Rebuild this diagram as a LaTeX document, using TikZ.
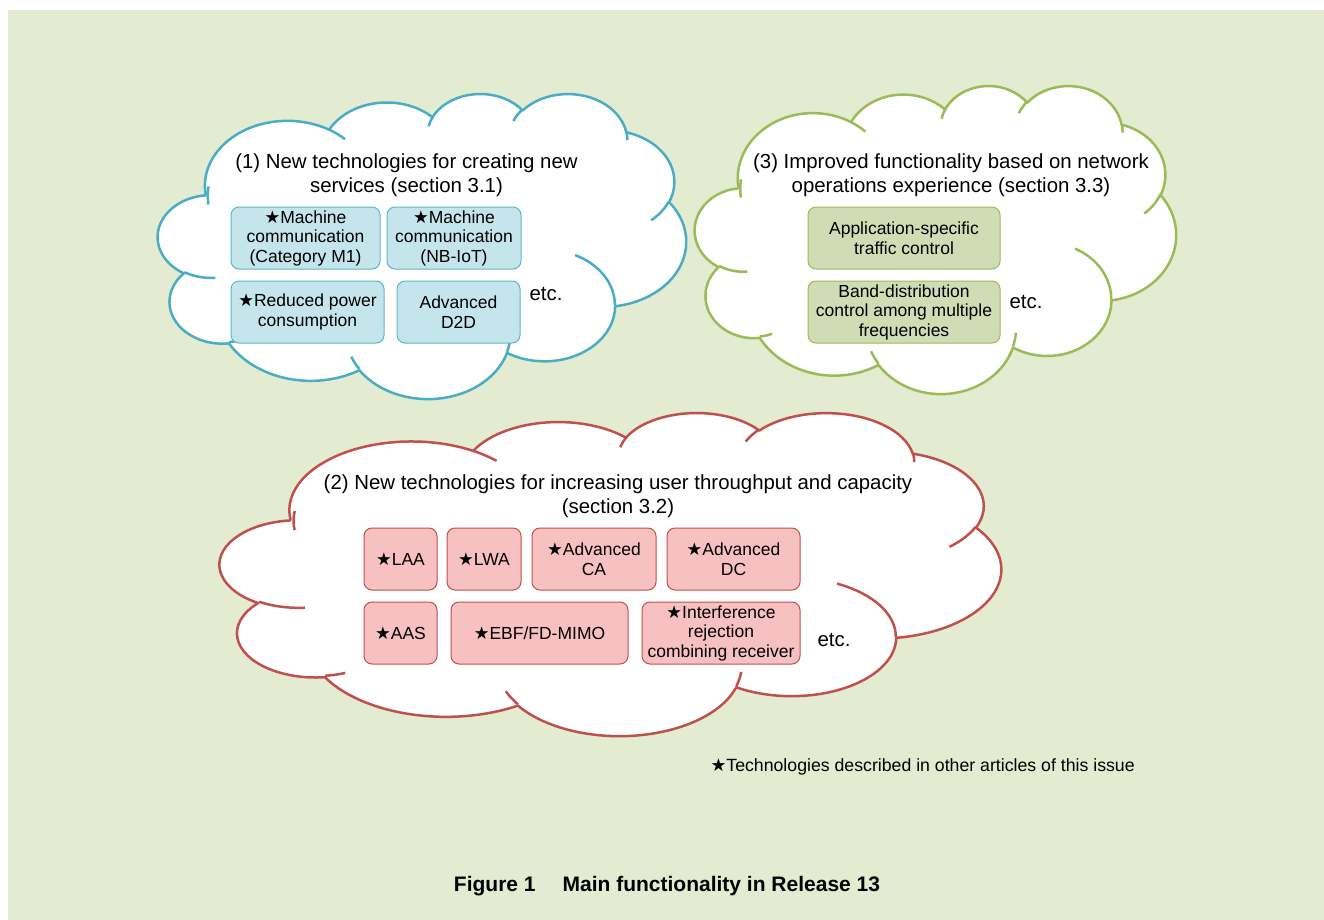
\documentclass[tikz,border=0pt]{standalone}
\usepackage{fontspec}
\setmainfont{Liberation Sans}
\newfontfamily\starfont{DejaVu Sans}
\usetikzlibrary{positioning}

\definecolor{pagebg}{HTML}{E3EBD1}
\definecolor{cloudblue}{HTML}{4BACC6}
\definecolor{cloudgreen}{HTML}{9BBB59}
\definecolor{cloudred}{HTML}{C0504D}
\definecolor{boxblue}{HTML}{C4E5EB}
\definecolor{boxblueline}{HTML}{5FB5CB}
\definecolor{boxgreen}{HTML}{D1DCB5}
\definecolor{boxred}{HTML}{F7C0C1}

\newcommand{\techstar}{{\starfont ★}}
\newcommand{\headfont}{\fontsize{20.4}{24}\selectfont}
\newcommand{\boxfont}{\fontsize{17.5}{19.5}\selectfont}

\tikzset{
  cloudline/.style={line width=2.5pt,fill=white,line join=round},
  techbox/.style={rounded corners=8pt,line width=1pt,align=center,inner sep=0pt,
    minimum height=62pt,font=\boxfont},
  bluebox/.style={techbox,draw=boxblueline,fill=boxblue},
  greenbox/.style={techbox,draw=cloudgreen,fill=boxgreen},
  redbox/.style={techbox,draw=cloudred,fill=boxred},
  heading/.style={align=center,font=\headfont},
  etcnote/.style={font=\headfont}
}

% cloud outline in a 432 x 432 box: colour, x, y, width, height
\newcommand{\drawcloud}[5]{%
  \begin{scope}[shift={(#2,#3)},xscale=#4/432,yscale=#5/432]
    \filldraw[cloudline,draw=#1] (39,143.7)
      \foreach \rx/\ry/\s/\d [evaluate={\s as \ts using atan2(\rx*sin(\s),\ry*cos(\s))},
          evaluate={\s as \te using atan2(\rx*sin(\s+\d),\ry*cos(\s+\d))},
          evaluate={\s as \dd using mod((\te)-(\ts)+720,360)}] in
        {67.53/91.90/-190.487/123.781, 53.33/72.67/-144.102/89.945,
         43.65/59.45/-145.808/99.723, 48.57/65.95/-130.986/117.242,
         53.33/72.73/-78.709/109.027, 67.75/92.20/-46.267/130.269,
         57.85/78.67/0.625/114.033, 67.52/92.15/22.452/115.173,
         77.20/105.43/66.243/75.711, 43.60/59.18/-274.942/146.736,
         43.45/59.45/-246.829/152.519}
        { arc[start angle=\ts,delta angle=\dd,x radius=\rx,y radius=\ry] } -- cycle;
    % inner folds
    \draw[cloudline,fill=none,draw=#1]
      \foreach \px/\py/\rx/\ry/\s/\d [evaluate={\s as \ts using atan2(\rx*sin(\s),\ry*cos(\s))},
          evaluate={\s as \te using atan2(\rx*sin(\s+\d),\ry*cos(\s+\d))},
          evaluate={\s as \dd using mod((\te)-(\ts)+720,360)}] in
        {46.93/261.77/43.45/59.45/86.742/26.430, 69.28/348.99/43.60/59.18/73.610/11.447,
         164.78/390.90/67.52/92.15/137.624/14.081, 288.27/347.51/67.52/92.15/6.453/15.998,
         341.29/229.54/57.85/78.67/-70.292/70.917, 417.98/153.54/53.33/72.73/30.318/27.752,
         383.24/54.26/48.57/65.95/-13.744/14.859, 290.78/39.52/48.57/65.95/-149.181/18.195,
         221.41/47.20/43.65/59.45/-163.494/17.686, 140.00/51.92/67.53/91.90/-66.707/12.319,
         41.27/157.89/67.53/91.90/-190.487/21.639}
        { (\px,\py) arc[start angle=\ts,delta angle=\dd,x radius=\rx,y radius=\ry] };
  \end{scope}}

\begin{document}
\begin{tikzpicture}[x=1pt,y=-1pt]
  \fill[white] (0,0) rectangle (1324,920);
  \useasboundingbox (0,0) rectangle (1324,920);
  \fill[pagebg] (8,10) rectangle (1324,920);

  \drawcloud{cloudblue}{158}{93}{528}{305}
  \drawcloud{cloudgreen}{695}{85}{481}{308}
  \drawcloud{cloudred}{220}{412}{781}{323}

  % (1) new services
  \node[heading] (title1) at (406.5,175) {(1) New technologies for creating new\\services (section 3.1)};
  \node[bluebox,minimum width=149pt] (mtcm) at (305.5,238) {\techstar Machine\\communication\\(Category M1)};
  \node[bluebox,minimum width=134pt,right=6pt of mtcm] (nbiot) {\techstar Machine\\communication\\(NB-IoT)};
  \node[bluebox,minimum width=153pt,below right=11pt and 0pt of mtcm.south west] (power) {\techstar Reduced power\\consumption};
  \node[bluebox,minimum width=123pt,right=12pt of power] (dtod) {Advanced\\D2D};
  \node[etcnote] (etc1) at (546,294) {etc.};

  % (3) operations experience
  \node[heading] (title3) at (951,175) {(3) Improved functionality based on network\\operations experience (section 3.3)};
  \node[greenbox,minimum width=192pt] (appctl) at (904,238) {Application-specific\\traffic control};
  \node[greenbox,minimum width=192pt,below=11pt of appctl] (bandctl) {Band-distribution\\control among multiple\\frequencies};
  \node[etcnote] (etc3) at (1026,302) {etc.};

  % (2) throughput and capacity
  \node[heading] (title2) at (618,496) {(2) New technologies for increasing user throughput and capacity\\(section 3.2)};
  \node[redbox,minimum width=73pt] (laa) at (400.5,559) {\techstar LAA};
  \node[redbox,minimum width=74pt,right=9pt of laa] (lwa) {\techstar LWA};
  \node[redbox,minimum width=124pt,right=10pt of lwa] (advca) {\techstar Advanced\\CA};
  \node[redbox,minimum width=133pt,right=10pt of advca] (advdc) {\techstar Advanced\\DC};
  \node[redbox,minimum width=73pt,below=11pt of laa] (aas) {\techstar AAS};
  \node[redbox,minimum width=177pt,right=13pt of aas] (ebf) {\techstar EBF/FD-MIMO};
  \node[redbox,minimum width=158pt,right=13pt of ebf] (irc) {\techstar Interference\\rejection\\combining receiver};
  \node[etcnote] (etc2) at (834,640) {etc.};

  \node[anchor=west,font=\fontsize{17.7}{20}\selectfont] (note) at (707,767) {\techstar Technologies described in other articles of this issue};
  \node[font=\fontsize{21}{24}\selectfont\bfseries] (caption) at (667,886) {Figure 1\hspace{27pt}Main functionality in Release 13};
\end{tikzpicture}
\end{document}
